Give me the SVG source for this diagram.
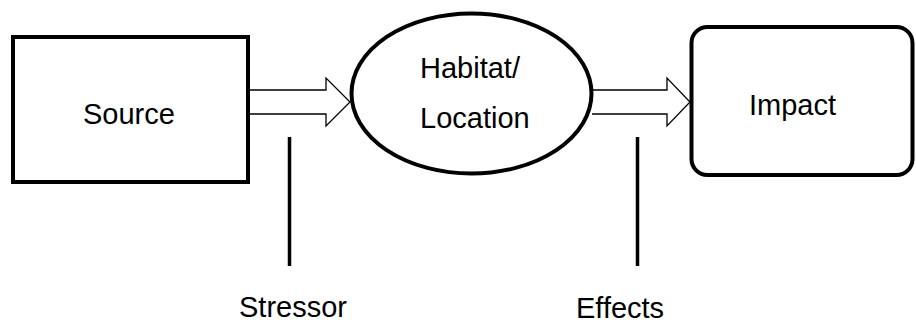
<svg xmlns="http://www.w3.org/2000/svg" width="916" height="324" viewBox="0 0 916 324">
  <style>
    .box { fill: #fff; stroke: #000; stroke-width: 4; }
    .arrow { fill: #fff; stroke: #000; stroke-width: 1.3; stroke-linejoin: miter; }
    .tick { stroke: #000; stroke-width: 3.5; fill: none; }
    text { font-family: "Liberation Sans", Arial, sans-serif; font-size: 29px; fill: #000; }
  </style>
  <rect width="916" height="324" fill="#fff"/>

  <g id="connectors">
    <!-- hollow block arrow: Source to Habitat/Location -->
    <path class="arrow" d="M250,90 H326 V78 L350,102 L326,126 V114 H250"/>
    <!-- hollow block arrow: Habitat/Location to Impact -->
    <path class="arrow" d="M592,90 H667 V78 L690,102 L667,126 V114 H592"/>
    <!-- callout lines under the arrows -->
    <line class="tick" x1="289.5" y1="137" x2="289.5" y2="266"/>
    <line class="tick" x1="637.5" y1="137" x2="637.5" y2="266"/>
  </g>

  <g id="source">
    <rect class="box" x="13" y="37" width="235" height="145"/>
    <text x="83" y="124">Source</text>
  </g>

  <g id="habitat">
    <ellipse class="box" cx="471.5" cy="93.5" rx="120" ry="80"/>
    <text x="420" y="78">Habitat/</text>
    <text x="420" y="128">Location</text>
  </g>

  <g id="impact">
    <rect class="box" x="691.5" y="27" width="221" height="148" rx="16" ry="16"/>
    <text x="749" y="115">Impact</text>
  </g>

  <g id="stressor-label">
    <text x="239" y="317">Stressor</text>
  </g>

  <g id="effects-label">
    <text x="576" y="318">Effects</text>
  </g>
</svg>
